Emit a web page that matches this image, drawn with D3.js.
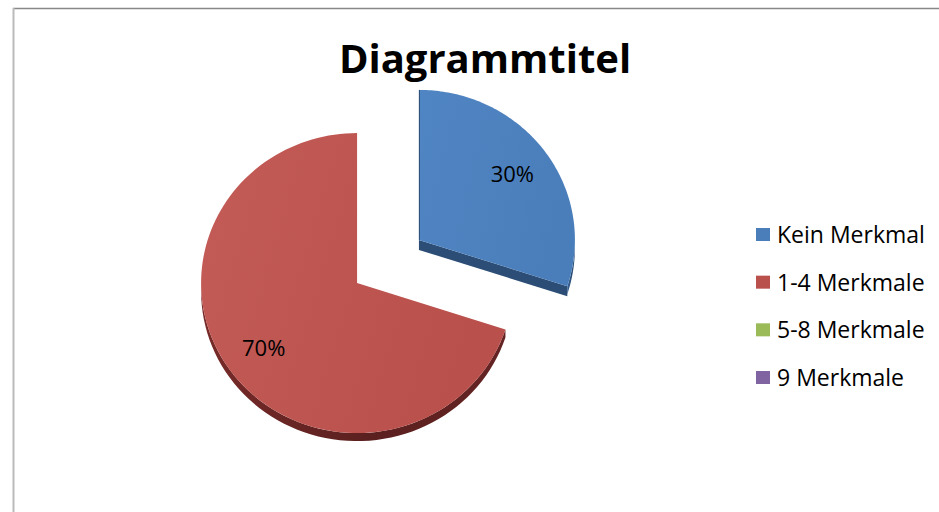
<!DOCTYPE html>
<html><head><meta charset="utf-8">
<script src="https://cdn.jsdelivr.net/npm/d3@7"></script>
<style>body{margin:0;background:#fff} svg{display:block}</style>
</head><body>
<svg id="c" width="939" height="512"></svg>
<script>
const title = "Diagrammtitel";
const categories = ["Kein Merkmal", "1-4 Merkmale", "5-8 Merkmale", "9 Merkmale"];
const values = [30, 70, 0, 0];
const labels = ["30%", "70%", "", ""];
const colors = ["#4a7ebb", "#b9504c", "#9bbb59", "#8064a2"];
const lightColors = ["#5085c3", "#c35b57", "#a6c565", "#8a70ad"];
const sideColors = ["#2c4d75", "#5a201f", "#5f7530", "#4d3b62"];

const svg = d3.select("#c");
const W = 939, H = 512;

// frame
svg.append("line").attr("x1", 13).attr("x2", W).attr("y1", 8.5).attr("y2", 8.5)
  .attr("stroke", "#888").attr("stroke-width", 1.5);
svg.append("line").attr("x1", 13.5).attr("x2", 13.5).attr("y1", 8).attr("y2", H)
  .attr("stroke", "#bbb").attr("stroke-width", 2);

svg.append("text").attr("x", 485).attr("y", 73).attr("text-anchor", "middle")
  .attr("font-family", "Open Sans").attr("font-weight", "bold").attr("font-size", 40)
  .attr("fill", "#000").text(title);

const cx = 388, cy = 261.5, rx = 156, ry = 150, depth = 8, explode = 0.245;
const pie = d3.pie().sort(null).value(d => d)(values);
const defs = svg.append("defs");

colors.forEach((c, i) => {
  const g = defs.append("linearGradient").attr("id", "top" + i)
    .attr("x1", "0").attr("x2", "1").attr("y1", "0").attr("y2", "0.3");
  g.append("stop").attr("offset", "0%").attr("stop-color", lightColors[i]);
  g.append("stop").attr("offset", "100%").attr("stop-color", colors[i]);
  const s = defs.append("linearGradient").attr("id", "side" + i)
    .attr("x1", "0").attr("x2", "1").attr("y1", "0").attr("y2", "0");
  s.append("stop").attr("offset", "0%").attr("stop-color", d3.color(sideColors[i]).brighter(0.8));
  s.append("stop").attr("offset", "55%").attr("stop-color", sideColors[i]);
  s.append("stop").attr("offset", "100%").attr("stop-color", d3.color(sideColors[i]).brighter(0.3));
});

const P = (ox, oy, a, r, dz = 0) => [ox + r * rx * Math.sin(a), oy - r * ry * Math.cos(a) + dz];
const line = d3.line();

const slices = pie.filter(d => d.value > 0).map(d => {
  const mid = (d.startAngle + d.endAngle) / 2;
  const [ox, oy] = P(cx, cy, mid, explode);
  return { d, ox, oy, mid };
});

const gSide = svg.append("g"), gTop = svg.append("g"), gLab = svg.append("g");

slices.forEach(s => {
  const { d, ox, oy } = s, i = d.index;
  // outer curved side (visible part: angles between pi/2 and 3pi/2)
  const lo = Math.max(d.startAngle, Math.PI / 2), hi = Math.min(d.endAngle, 3 * Math.PI / 2);
  if (lo < hi) {
    const n = 60;
    const angs = d3.range(n + 1).map(k => lo + (hi - lo) * k / n);
    const pts = angs.map(a => P(ox, oy, a, 1)).concat(angs.slice().reverse().map(a => P(ox, oy, a, 1, depth)));
    gSide.append("path").attr("d", line(pts) + "Z").attr("fill", `url(#side${i})`);
  }
  // radial walls
  [[d.startAngle, Math.sin(d.startAngle) < -1e-6], [d.endAngle, Math.sin(d.endAngle) > 1e-6]].forEach(([a, vis]) => {
    if (!vis) return;
    const e = P(ox, oy, a, 1);
    const pts = [[ox, oy], e, [e[0], e[1] + depth + 2], [ox, oy + depth + 2]];
    gSide.append("path").attr("d", line(pts) + "Z").attr("fill", sideColors[i]);
  });
  // top face
  const n = 120;
  const angs = d3.range(n + 1).map(k => d.startAngle + (d.endAngle - d.startAngle) * k / n);
  const pts = [[ox, oy]].concat(angs.map(a => P(ox, oy, a, 1)));
  gTop.append("path").attr("d", line(pts) + "Z").attr("fill", `url(#top${i})`);
  if (Math.abs(Math.sin(d.startAngle)) < 1e-6) {
    const e = P(ox, oy, d.startAngle, 1);
    gTop.append("line").attr("x1", ox + 0.5).attr("x2", e[0] + 0.5).attr("y1", oy).attr("y2", e[1])
      .attr("stroke", sideColors[i]).attr("stroke-width", 1);
  }
  // label
  const [lx, ly] = P(ox, oy, s.mid, 0.74);
  gLab.append("text").attr("x", lx).attr("y", ly).attr("dy", "0.35em").attr("text-anchor", "middle")
    .attr("font-family", "Open Sans").attr("font-size", 22).attr("fill", "#000").text(labels[i]);
});

// legend
const ly = d3.scalePoint().domain(categories).range([235, 378]);
const lg = svg.append("g");
categories.forEach((c, i) => {
  lg.append("rect").attr("x", 756).attr("y", ly(c) - 7).attr("width", 14).attr("height", 13).attr("fill", colors[i]);
  lg.append("text").attr("x", 777).attr("y", ly(c) + 8).attr("font-family", "Open Sans")
    .attr("font-size", 23).attr("fill", "#000").text(c);
});
</script>
</body></html>
